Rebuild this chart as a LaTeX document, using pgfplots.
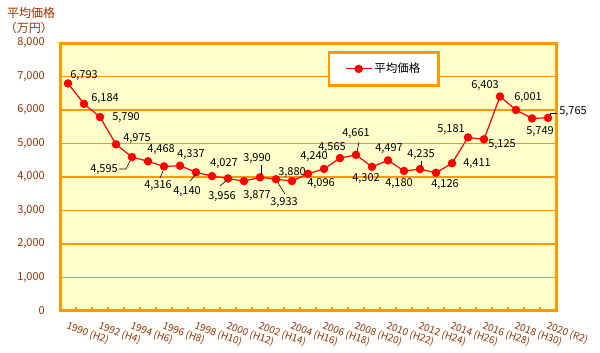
\documentclass[border=0pt]{standalone}
\usepackage{fontspec}
\setmainfont{Noto Sans CJK JP}
\usepackage{pgfplots}
\usepackage{pgfplotstable}
\pgfplotsset{compat=1.18}
\definecolor{frameor}{HTML}{FF9900}
\definecolor{bgy}{HTML}{FFFFCC}
\definecolor{brn}{HTML}{993300}

\pgfplotstableread{
x y dx dy
0 6793 16 8
1 6184 21 5
2 5790 26 -1
3 4975 21 6
4 4595 -28 -12
5 4468 13 12
6 4316 -6 -19
7 4337 11 11
8 4140 -9 -19
9 4027 12 13
10 3956 -6 -18
11 3877 13 -14
12 3990 -3 19
13 3933 8 -23
14 3880 0 8
15 4096 13 -10
16 4240 -10 12
17 4565 -8 11
18 4661 0 21
19 4302 -6 -12
20 4497 1 12
21 4180 -5 -13
22 4235 1 15
23 4126 9 -12
24 4411 25 0
25 5181 -17 8
26 5125 18 -5
27 6403 -15 11
28 6001 12 12
29 5749 8 -13
30 5765 25 6
}\data

\begin{document}
\begin{tikzpicture}
\useasboundingbox (0,0) rectangle (600pt,353pt);
\begin{axis}[
  at={(60pt,42pt)}, anchor=south west,
  scale only axis, width=496pt, height=268pt,
  xmin=-0.5, xmax=30.5, ymin=0, ymax=8000,
  axis background/.style={fill=bgy},
  axis line style={draw=frameor, line width=3pt},
  ymajorgrids, major grid style={draw=frameor, line width=1.2pt},
  ytick={0,1000,...,8000},
  ytick style={draw=none},
  ytick pos=left,
  yticklabel style={font=\fontsize{11}{12}\selectfont, text=brn, inner sep=0pt, xshift=-15pt},
  /pgf/number format/assume math mode=true,
  /pgf/number format/1000 sep={,},
  scaled y ticks=false,
  xtick={0,2,...,30},
  xticklabels={1990 (H2),1992 (H4),1994 (H6),1996 (H8),1998 (H10),2000 (H12),2002 (H14),2004 (H16),2006 (H18),2008 (H20),2010 (H22),2012 (H24),2014 (H26),2016 (H28),2018 (H30),2020 (R2)},
  minor xtick={0.5,1.5,...,29.5},
  xtick pos=bottom,
  tick align=inside,
  major tick length=0pt,
  minor tick length=4pt,
  minor x tick style={draw=frameor, line width=1.5pt},
  xticklabel style={rotate=-20, anchor=north west, inner sep=0pt, font=\fontsize{10}{11}\selectfont, text=brn, yshift=-9pt, xshift=4pt},
  clip=false,
  legend style={at={(0.540,0.970)}, anchor=north west, draw=frameor, line width=2.5pt, fill=white, inner xsep=16pt, inner ysep=9pt, font=\fontsize{11.5}{13}\selectfont},
  legend image code/.code={\draw[mark repeat=2,mark phase=2] plot coordinates {(0pt,0pt) (13pt,0pt) (26pt,0pt)};},
]
\addplot[color=red, line width=1.2pt, mark=*, mark size=3.6pt, mark options={solid, fill=red, draw=red},
  nodes near coords={\pgfmathprintnumber[fixed,precision=0,1000 sep={,}]{\pgfplotspointmeta}},
  visualization depends on={\thisrow{dx} \as \dx},
  visualization depends on={\thisrow{dy} \as \dy},
  every node near coord/.append style={anchor=center, xshift=\dx pt, yshift=\dy pt, inner sep=0pt, text=black, font=\fontsize{11}{12}\selectfont},
] table[x=x,y=y] {\data};
\addlegendentry{平均価格}
\end{axis}
\node[text=brn, font=\fontsize{12}{13}\selectfont] at (31pt,340pt) {平均価格};
\node[text=brn, font=\fontsize{12}{13}\selectfont] at (29pt,325pt) {（万円）};
\begin{scope}[line width=0.6pt, black]
\draw (119pt,184pt) -- (126pt,184pt) -- (130pt,192pt);
\draw (163pt,182pt) -- (160pt,175pt);
\draw (196pt,179pt) -- (190pt,172pt);
\draw (227pt,173pt) -- (220pt,167pt);
\draw (261pt,188pt) -- (261pt,179pt);
\draw (278pt,170pt) -- (285pt,159pt);
\draw (359pt,211pt) -- (357pt,201pt);
\draw (421pt,192pt) -- (421pt,187pt);
\draw (550pt,237pt) -- (550pt,240pt) -- (557pt,240pt);
\end{scope}
\end{tikzpicture}
\end{document}
